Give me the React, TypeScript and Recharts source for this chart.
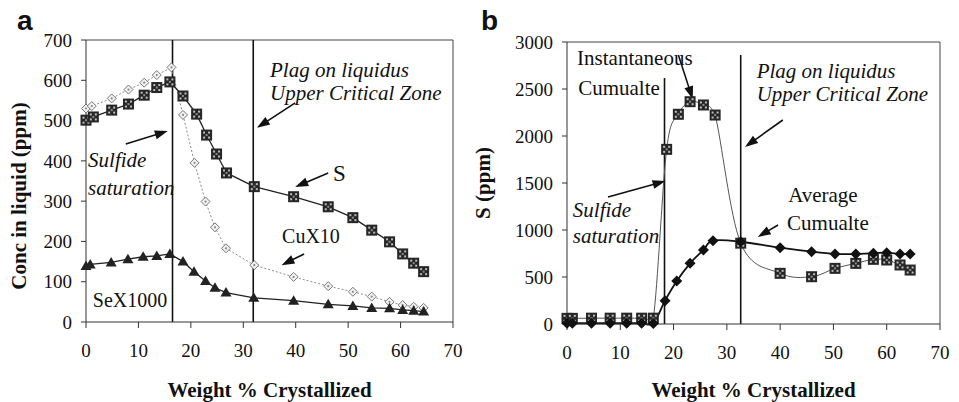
import React from 'react';
import { LineChart, Line, XAxis, YAxis, ReferenceLine, ReferenceDot } from 'recharts';

const SERIF = "Liberation Serif, DejaVu Serif, Noto Serif, Times New Roman, serif";
const SANS = "Liberation Sans, Arial, sans-serif";

// ---------- Panel a ----------
const weightS = [0, 1.4, 4.9, 8.1, 11.1, 13.5, 16.0, 18.5, 21.1, 23.0, 24.9, 26.8, 32.1, 39.6, 46.2, 50.9, 54.5, 57.9, 60.4, 62.5, 64.4];
const sConc = [501, 509, 526, 541, 563, 582, 596, 561, 516, 464, 417, 370, 336, 311, 286, 259, 228, 199, 169, 146, 125];
const weightCu = [0, 1.1, 4.9, 8.1, 11.1, 13.5, 16.3, 18.5, 20.7, 22.8, 24.6, 26.7, 32.1, 39.6, 46.2, 50.9, 54.5, 57.9, 60.4, 62.5, 64.4];
const cuX10 = [530, 536, 555, 577, 594, 613, 632, 514, 395, 299, 235, 183, 141, 112, 89, 75, 63, 50, 42, 38, 35];
const weightSe = [0, 0.8, 4.8, 8.0, 10.9, 13.5, 16.0, 18.5, 20.6, 22.8, 24.6, 26.7, 32.0, 39.6, 46.2, 50.9, 54.5, 57.9, 60.4, 62.5, 64.4];
const seX1000 = [139, 143, 148, 156, 162, 164, 169, 150, 125, 102, 85, 73, 60, 53, 44, 40, 35, 34, 30, 28, 26];
const ticksYA = [0, 100, 200, 300, 400, 500, 600, 700];
const ticksX = [0, 10, 20, 30, 40, 50, 60, 70];
const markersA = [16.5, 31.9];

// ---------- Panel b ----------
const weightInst = [0, 1, 4.6, 8.1, 11.2, 14.0, 16.2, 18.7, 20.9, 23.1, 25.6, 27.8, 32.6, 40.0, 45.9, 50.3, 54.2, 57.5, 60.0, 62.5, 64.4];
const instCum = [60, 60, 62, 62, 62, 62, 62, 1858, 2231, 2365, 2330, 2223, 860, 539, 503, 592, 645, 688, 681, 628, 574];
const weightAvg = [0, 1, 4.6, 8.1, 11.2, 14.0, 16.2, 18.4, 20.6, 23.1, 25.6, 27.4, 32.6, 40.0, 45.9, 50.3, 54.2, 57.5, 60.0, 62.5, 64.4];
const avgCum = [8, 8, 8, 8, 8, 8, 6, 248, 457, 645, 787, 886, 875, 812, 769, 745, 745, 752, 759, 745, 745];
const ticksYB = [0, 500, 1000, 1500, 2000, 2500, 3000];
const markersB = [
  { x: 18.3, top: 2617 },
  { x: 32.6, top: 2862 },
];

// annotations (data coordinates)
const notesA = [
  { x: 35.1, y: 608, text: 'Plag on liquidus', italic: true, size: 21 },
  { x: 35.1, y: 551, text: 'Upper Critical Zone', italic: true, size: 21 },
  { x: 0.4, y: 385, text: 'Sulfide', italic: true, size: 21 },
  { x: 0.4, y: 315, text: 'saturation', italic: true, size: 21 },
  { x: 47.1, y: 350, text: 'S', italic: false, size: 23 },
  { x: 37.4, y: 196, text: 'CuX10', italic: false, size: 20 },
  { x: 1.3, y: 37, text: 'SeX1000', italic: false, size: 20 },
];
const arrowsA = [
  { x1: 39.9, y1: 544, x2: 32.6, y2: 482 },
  { x1: 7.6, y1: 442, x2: 15.6, y2: 474 },
  { x1: 46.2, y1: 370, x2: 39.9, y2: 335 },
  { x1: 41.6, y1: 169, x2: 37.3, y2: 141 },
];
const notesB = [
  { x: 1.9, y: 2755, text: 'Instantaneous', italic: false, size: 21 },
  { x: 2.1, y: 2436, text: 'Cumualte', italic: false, size: 21 },
  { x: 35.6, y: 2617, text: 'Plag on liquidus', italic: true, size: 21 },
  { x: 35.6, y: 2372, text: 'Upper Critical Zone', italic: true, size: 21 },
  { x: 1.1, y: 1138, text: 'Sulfide', italic: true, size: 21 },
  { x: 1.1, y: 862, text: 'saturation', italic: true, size: 21 },
  { x: 41.5, y: 1298, text: 'Average', italic: false, size: 21 },
  { x: 41.3, y: 1000, text: 'Cumualte', italic: false, size: 21 },
];
const arrowsB = [
  { x1: 20.9, y1: 2862, x2: 23.6, y2: 2390 },
  { x1: 40.5, y1: 2170, x2: 33.4, y2: 1883 },
  { x1: 7.7, y1: 1351, x2: 18.5, y2: 1521 },
  { x1: 39.6, y1: 1053, x2: 35.8, y2: 926 },
];

const toData = (xs: number[], ys: number[]) => xs.map((x, i) => ({ x, y: ys[i] }));

// Excel-like smoothed curve (Catmull-Rom bezier, control points limited)
const excelSmooth = (context: any) => {
  let pts: number[][] = [];
  return {
    areaStart() {},
    areaEnd() {},
    lineStart() {
      pts = [];
    },
    lineEnd() {
      const n = pts.length;
      if (!n) return;
      context.moveTo(pts[0][0], pts[0][1]);
      for (let i = 0; i < n - 1; i++) {
        const p0 = pts[i - 1] || pts[i];
        const p1 = pts[i];
        const p2 = pts[i + 1];
        const p3 = pts[i + 2] || p2;
        const lo = Math.min(p1[1], p2[1]) - 3;
        const hi = Math.max(p1[1], p2[1]) + 3;
        const cl = (v: number) => Math.max(lo, Math.min(hi, v));
        context.bezierCurveTo(
          p1[0] + (p2[0] - p0[0]) / 6,
          cl(p1[1] + (p2[1] - p0[1]) / 6),
          p2[0] - (p3[0] - p1[0]) / 6,
          cl(p2[1] - (p3[1] - p1[1]) / 6),
          p2[0],
          p2[1]
        );
      }
    },
    point(x: number, y: number) {
      pts.push([+x, +y]);
    },
  };
};

const PatSquare = (props: any) => {
  const { cx, cy } = props;
  if (cx == null || cy == null) return null;
  const s = 11;
  const h = s / 2;
  return (
    <g>
      <rect x={cx - h} y={cy - h} width={s} height={s} fill="#262626" />
      <rect x={cx - 3.5} y={cy - 3.5} width={2} height={2} fill="#bdbdbd" />
      <rect x={cx + 1.5} y={cy - 3.5} width={2} height={2} fill="#bdbdbd" />
      <rect x={cx - 3.5} y={cy + 1.5} width={2} height={2} fill="#bdbdbd" />
      <rect x={cx + 1.5} y={cy + 1.5} width={2} height={2} fill="#bdbdbd" />
      <rect x={cx - 1} y={cy - 1} width={2} height={2} fill="#8a8a8a" />
    </g>
  );
};

const LightDiamond = (props: any) => {
  const { cx, cy } = props;
  if (cx == null || cy == null) return null;
  const r = 4.5;
  return (
    <g>
      <polygon points={`${cx},${cy - r} ${cx + r},${cy} ${cx},${cy + r} ${cx - r},${cy}`} fill="#f2f2f2" stroke="#777" strokeWidth={1} />
      <circle cx={cx} cy={cy} r={1.1} fill="#888" />
    </g>
  );
};

const Triangle = (props: any) => {
  const { cx, cy } = props;
  if (cx == null || cy == null) return null;
  return <polygon points={`${cx},${cy - 5.5} ${cx + 5.5},${cy + 4} ${cx - 5.5},${cy + 4}`} fill="#222" />;
};

const DarkDiamond = (props: any) => {
  const { cx, cy } = props;
  if (cx == null || cy == null) return null;
  const r = 5.5;
  return <polygon points={`${cx},${cy - r} ${cx + r},${cy} ${cx},${cy + r} ${cx - r},${cy}`} fill="#111" />;
};

const Arrow = (props: any) => {
  const { x1, y1, x2, y2 } = props;
  if ([x1, y1, x2, y2].some((v) => v == null || isNaN(v))) return null;
  const dx = x2 - x1;
  const dy = y2 - y1;
  const L = Math.hypot(dx, dy) || 1;
  const ux = dx / L;
  const uy = dy / L;
  const hl = 13;
  const hw = 4.5;
  const bx = x2 - ux * hl;
  const by = y2 - uy * hl;
  return (
    <g>
      <line x1={x1} y1={y1} x2={bx + ux * 2} y2={by + uy * 2} stroke="#111" strokeWidth={1.6} />
      <polygon points={`${x2},${y2} ${bx - uy * hw},${by + ux * hw} ${bx + uy * hw},${by - ux * hw}`} fill="#111" />
    </g>
  );
};

const makeText = (t: { text: string; italic: boolean; size: number }) => (p: any) => (
  <text
    x={p.cx}
    y={p.cy}
    style={{ fontFamily: SERIF, fontSize: t.size, fontStyle: t.italic ? 'italic' : 'normal' }}
    fill="#111"
  >
    {t.text}
  </text>
);

const tickStyle = { fill: '#111', fontSize: 19, style: { fontFamily: SERIF } };
const axisLine = { stroke: '#333', strokeWidth: 1 };

const xLabel = {
  content: (p: any) => {
    const vb = p.viewBox || { x: 0, y: 0, width: 0, height: 0 };
    return (
      <text
        x={vb.x + vb.width / 2}
        y={vb.y + vb.height - 5}
        textAnchor="middle"
        style={{ fontFamily: SERIF, fontSize: 21, fontWeight: 'bold' }}
        fill="#111"
      >
        Weight % Crystallized
      </text>
    );
  },
};

const yLabel = (text: string, dx: number, dy: number) => ({
  content: (p: any) => {
    const vb = p.viewBox || { x: 0, y: 0, width: 0, height: 0 };
    const cx = vb.x + dx;
    const cy = vb.y + vb.height / 2 + dy;
    return (
      <text
        transform={`translate(${cx}, ${cy}) rotate(-90)`}
        textAnchor="middle"
        dominantBaseline="central"
        style={{ fontFamily: SERIF, fontSize: 21, fontWeight: 'bold' }}
        fill="#111"
      >
        {text}
      </text>
    );
  },
});

const PanelA = () => (
  <LineChart width={470} height={402} margin={{ top: 40, right: 17, bottom: 0, left: 0 }} style={{ fontFamily: SERIF }}>
    <XAxis
      type="number"
      dataKey="x"
      domain={[0, 70]}
      ticks={ticksX}
      interval={0}
      tickSize={6}
      tickMargin={16}
      height={80}
      axisLine={axisLine}
      tickLine={axisLine}
      tick={tickStyle}
      label={xLabel}
    />
    <YAxis
      type="number"
      domain={[0, 700]}
      ticks={ticksYA}
      interval={0}
      width={86}
      tickSize={5}
      tickMargin={9}
      axisLine={axisLine}
      tickLine={axisLine}
      tick={tickStyle}
      label={yLabel('Conc in liquid (ppm)', 19, 15)}
    />
    <ReferenceLine y={700} stroke="#444" strokeWidth={1} />
    <ReferenceLine x={70} stroke="#444" strokeWidth={1} />
    {markersA.map((m) => (
      <ReferenceLine key={m} x={m} stroke="#111" strokeWidth={1.6} />
    ))}
    <Line data={toData(weightCu, cuX10)} dataKey="y" type="linear" stroke="#8a8a8a" strokeWidth={1} strokeDasharray="2 2" dot={<LightDiamond />} activeDot={false} isAnimationActive={false} />
    <Line data={toData(weightSe, seX1000)} dataKey="y" type="linear" stroke="#222" strokeWidth={1.3} dot={<Triangle />} activeDot={false} isAnimationActive={false} />
    <Line data={toData(weightS, sConc)} dataKey="y" type="linear" stroke="#222" strokeWidth={1.3} dot={<PatSquare />} activeDot={false} isAnimationActive={false} />
    {arrowsA.map((a, i) => (
      <ReferenceLine key={'aa' + i} segment={[{ x: a.x1, y: a.y1 }, { x: a.x2, y: a.y2 }]} shape={(p: any) => <Arrow {...p} />} />
    ))}
    {notesA.map((t, i) => (
      <ReferenceDot key={'na' + i} x={t.x} y={t.y} r={1} shape={makeText(t)} />
    ))}
  </LineChart>
);

const PanelB = () => (
  <LineChart width={489} height={402} margin={{ top: 42, right: 19, bottom: 0, left: 0 }} style={{ fontFamily: SERIF }}>
    <XAxis
      type="number"
      dataKey="x"
      domain={[0, 70]}
      ticks={ticksX}
      interval={0}
      tickSize={6}
      tickMargin={16}
      height={78}
      axisLine={axisLine}
      tickLine={axisLine}
      tick={tickStyle}
      label={xLabel}
    />
    <YAxis
      type="number"
      domain={[0, 3000]}
      ticks={ticksYB}
      interval={0}
      width={97}
      tickSize={5}
      tickMargin={9}
      axisLine={axisLine}
      tickLine={axisLine}
      tick={tickStyle}
      label={yLabel('S (ppm)', 13, 0)}
    />
    <ReferenceLine y={3000} stroke="#444" strokeWidth={1} />
    <ReferenceLine x={70} stroke="#444" strokeWidth={1} />
    {markersB.map((m) => (
      <ReferenceLine key={m.x} segment={[{ x: m.x, y: 0 }, { x: m.x, y: m.top }]} stroke="#111" strokeWidth={1.6} />
    ))}
    <Line data={toData(weightInst, instCum)} dataKey="y" type={excelSmooth as any} stroke="#555" strokeWidth={1} dot={<PatSquare />} activeDot={false} isAnimationActive={false} />
    <Line data={toData(weightAvg, avgCum)} dataKey="y" type={excelSmooth as any} stroke="#111" strokeWidth={1.8} dot={<DarkDiamond />} activeDot={false} isAnimationActive={false} />
    {arrowsB.map((a, i) => (
      <ReferenceLine key={'ab' + i} segment={[{ x: a.x1, y: a.y1 }, { x: a.x2, y: a.y2 }]} shape={(p: any) => <Arrow {...p} />} />
    ))}
    {notesB.map((t, i) => (
      <ReferenceDot key={'nb' + i} x={t.x} y={t.y} r={1} shape={makeText(t)} />
    ))}
  </LineChart>
);

export default function App() {
  return (
    <div style={{ position: 'absolute', left: 0, top: 0, width: 959, height: 402, background: '#fff', overflow: 'hidden', fontFamily: SERIF }}>
      <div style={{ position: 'absolute', left: 0, top: 0 }}>
        <PanelA />
      </div>
      <div style={{ position: 'absolute', left: 470, top: 0 }}>
        <PanelB />
      </div>
      <svg width={959} height={402} style={{ position: 'absolute', left: 0, top: 0, pointerEvents: 'none' }}>
        <text x={17} y={30} style={{ fontFamily: SANS, fontWeight: 'bold', fontSize: 28 }} fill="#111">a</text>
        <text x={481} y={30} style={{ fontFamily: SANS, fontWeight: 'bold', fontSize: 28 }} fill="#111">b</text>
      </svg>
    </div>
  );
}
